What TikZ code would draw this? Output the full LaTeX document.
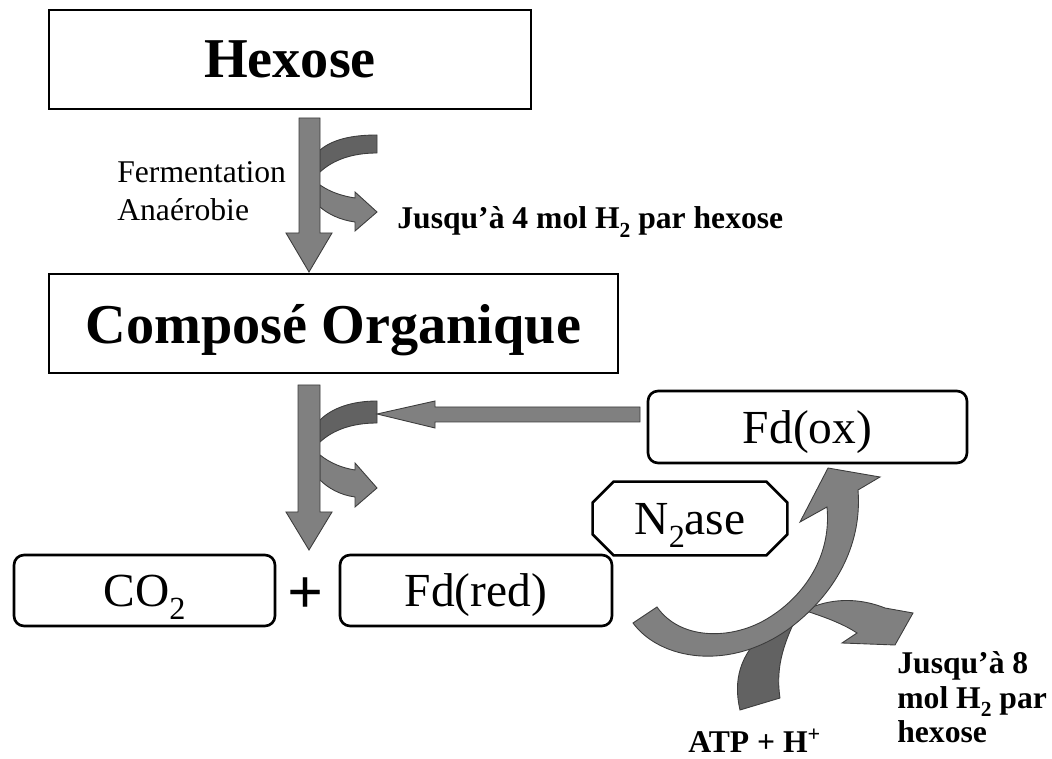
\documentclass[tikz,border=0pt]{standalone}
\usepackage{fontspec}
\setmainfont{Liberation Serif}
\usepackage{graphicx}
\usepackage{xcolor}
\usepackage{tikz}

\definecolor{grisfleche}{RGB}{128,128,128}
\definecolor{grisfonce}{RGB}{98,98,98}
\definecolor{contour}{RGB}{60,60,60}

% indice bas, comme dans les diapositives
\newcommand{\indice}[1]{\raisebox{-0.28em}{\scalebox{0.68}{#1}}}

\begin{document}
\begin{tikzpicture}[
  x=0.02cm, y=-0.02cm,
  boite/.style={draw, line width=1.5pt, inner sep=0pt},
  boiteronde/.style={boite, rounded corners=0.2cm},
  fleche/.style={draw=contour, line width=0.5pt, fill=grisfleche},
  flechesombre/.style={fleche, fill=grisfonce},
  titre/.style={font=\fontsize{32}{38}\selectfont\bfseries, text depth=0pt},
  espece/.style={font=\fontsize{27}{32}\selectfont, text depth=0pt},
  note/.style={font=\fontsize{18}{19.8}\selectfont\bfseries, align=left, inner sep=0pt}
]

\useasboundingbox (0,0) rectangle (1052,759);

% boites
\node[boite, titre, minimum width=9.64cm, minimum height=1.98cm] (hexose) at (290,59.5) {Hexose};
\node[boite, titre, minimum width=11.38cm, minimum height=1.98cm] (compose) at (333.5,323.5) {Composé Organique};
\node[boiteronde, espece, minimum width=6.38cm, minimum height=1.44cm] (fdox) at (807.5,427) {Fd(ox)};
\node[boiteronde, espece, minimum width=5.22cm, minimum height=1.42cm] (cod) at (144.5,590.5) {CO\indice{2}};
\node[boiteronde, espece, minimum width=5.44cm, minimum height=1.42cm] (fdred) at (476,590.5) {Fd(red)};
\node[font=\fontsize{36}{40}\selectfont\bfseries] (plus) at (306,596) {+};

% N2ase, octogone
\node[espece, inner sep=0pt, minimum width=3.88cm, minimum height=1.46cm] (nase) at (690,518.5) {N\indice{2}ase};
\draw[line width=1.5pt] ([xshift=0.42cm]nase.north west) -- ([xshift=-0.42cm]nase.north east)
  -- ([yshift=-0.42cm]nase.north east) -- ([yshift=0.42cm]nase.south east)
  -- ([xshift=-0.42cm]nase.south east) -- ([xshift=0.42cm]nase.south west)
  -- ([yshift=0.42cm]nase.south west) -- ([yshift=-0.42cm]nase.north west) -- cycle;

% fermentation : Hexose -> Compose
\draw[flechesombre] (320,150) .. controls (332,140) and (350,135) .. (377,135) -- (377,153) .. controls (352,153) and (333,160) .. (320,172) -- cycle;
\draw[fleche] (320,185) .. controls (330,192) and (342,196) .. (355,198) -- (355,192) -- (377,212) -- (355,231) -- (355,222) .. controls (340,220) and (328,214) .. (320,207) -- cycle;
\draw[fleche] (299,118) -- (320,118) -- (320,233) -- (332,233) -- (309,272) -- (286,233) -- (299,233) -- cycle;

% Compose -> CO2 + Fd(red)
\draw[flechesombre] (320,420) .. controls (332,408) and (352,401) .. (377,401) -- (377,423) .. controls (352,423) and (333,430) .. (320,442) -- cycle;
\draw[fleche] (320,455) .. controls (330,463) and (342,468) .. (355,470) -- (355,463) -- (377,488) -- (355,507) -- (355,497) .. controls (340,495) and (328,488) .. (320,480) -- cycle;
\draw[fleche] (298,385) -- (320,385) -- (320,512) -- (332,512) -- (309,550) -- (286,512) -- (298,512) -- cycle;

% retour de Fd(ox)
\draw[fleche] (640,407) -- (435,407) -- (435,401) -- (377,414) -- (435,428) -- (435,422) -- (640,422) -- cycle;

% cycle de la nitrogenase
\draw[flechesombre] (740,710) .. controls (733,680) and (740,655) .. (765,632) -- (800,610) .. controls (785,640) and (775,665) .. (780,698) -- cycle;
\draw[fleche] (805,605) -- (815,606) .. controls (840,597) and (865,600) .. (885,608) -- (913,613) -- (895,645) -- (842,643) -- (857,633) .. controls (845,625) and (828,618) .. (806,611) -- cycle;
\draw[fleche] (633,623) .. controls (660,660) and (730,672) .. (790,628) .. controls (840,590) and (862,540) .. (858,490) -- (880,477) -- (828,468) -- (800,522) -- (827,507) .. controls (832,560) and (800,600) .. (765,620) .. controls (730,640) and (680,640) .. (657,607) -- cycle;

% textes
\node[font=\fontsize{18}{21.5}\selectfont, align=left, anchor=north west, inner sep=0pt] (ferment) at (117,161) {Fermentation\\Anaérobie};
\node[note, anchor=base west] (hquatre) at (397,229) {Jusqu’à 4 mol H\indice{2} par hexose};
\node[note, anchor=north west] (hhuit) at (897,651) {Jusqu’à 8\\mol H\indice{2} par\\hexose};
\node[note, anchor=base west] (atp) at (688,753) {ATP + H\textsuperscript{+}};

\end{tikzpicture}
\end{document}
